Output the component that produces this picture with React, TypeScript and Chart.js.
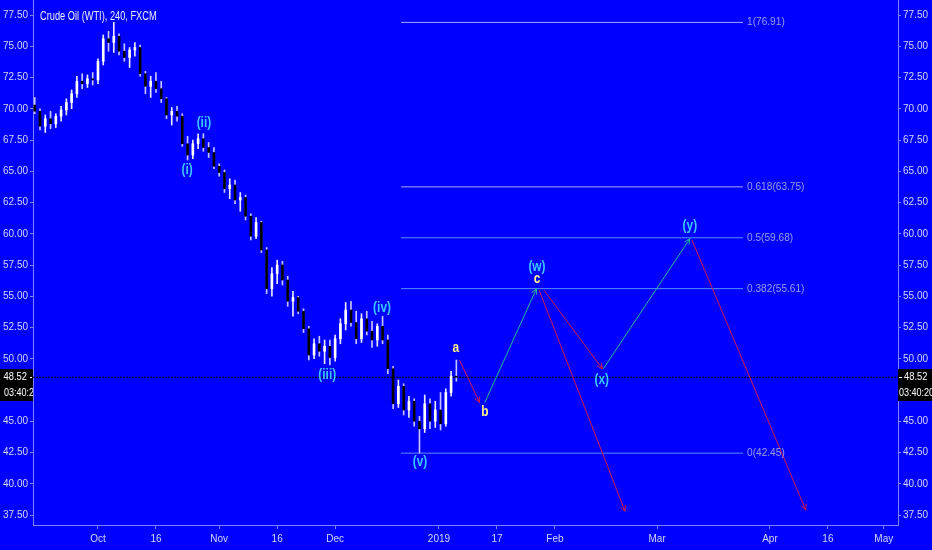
import React, { useEffect, useRef } from "react";
import { Chart, registerables } from "chart.js";

Chart.register(...registerables);

// ---- data ----
const chartTitle = "Crude Oil (WTI), 240, FXCM";
const firstDay = -12; // trading-day index of first bar (0 = 1 Oct 2018)
const opens = [70.3, 69.8, 68.6, 69.2, 68.8, 69.4, 69.9, 70.5, 71.2, 72.2, 72.0, 72.4, 72.3, 73.8, 75.6, 75.3, 75.8, 74.6, 74.1, 74.7, 74.9, 72.8, 71.8, 72.2, 71.6, 70.8, 69.5, 69.8, 69.4, 67.2, 66.3, 67.2, 67.6, 66.9, 66.5, 65.4, 64.9, 63.6, 63.9, 62.7, 62.9, 61.4, 59.8, 60.9, 58.7, 55.6, 56.8, 57.5, 56.3, 54.6, 54.9, 53.8, 52.4, 50.3, 51.2, 50.6, 51.0, 50.1, 51.6, 52.8, 53.9, 52.9, 51.6, 53.2, 52.2, 51.5, 52.6, 51.5, 49.2, 46.4, 47.8, 45.9, 46.6, 45.0, 44.4, 46.4, 45.0, 45.9, 44.8, 47.3, 48.6];
const highs = [70.9, 70.0, 69.5, 69.8, 69.6, 70.2, 70.8, 71.5, 72.6, 72.8, 72.7, 72.9, 74.0, 75.9, 76.2, 76.91, 76.0, 75.2, 74.9, 75.3, 75.1, 73.0, 72.6, 72.9, 72.2, 70.9, 70.1, 70.2, 69.6, 67.8, 67.5, 68.0, 68.0, 67.3, 66.9, 65.6, 65.1, 64.4, 64.3, 63.3, 63.1, 61.6, 61.3, 61.0, 58.9, 57.3, 57.9, 57.8, 56.6, 55.4, 55.0, 54.0, 52.6, 51.6, 51.8, 51.5, 51.5, 51.9, 53.2, 54.5, 54.6, 53.8, 53.6, 53.8, 53.0, 52.8, 53.4, 51.9, 49.4, 48.3, 48.0, 47.0, 46.8, 45.4, 47.1, 46.8, 46.6, 47.3, 47.6, 49.0, 49.9];
const lows = [69.6, 68.3, 68.1, 68.4, 68.5, 69.0, 69.5, 70.0, 70.9, 71.6, 71.7, 71.9, 72.0, 73.5, 74.6, 74.5, 74.3, 73.8, 73.3, 74.2, 72.6, 71.2, 70.9, 71.3, 70.5, 69.2, 68.7, 69.0, 67.0, 65.9, 66.0, 66.8, 66.6, 66.1, 65.2, 64.6, 63.3, 62.8, 62.4, 61.8, 61.1, 59.5, 59.6, 58.5, 55.2, 55.0, 56.0, 55.9, 54.2, 53.4, 53.6, 52.1, 49.9, 50.0, 50.2, 49.6, 49.5, 49.8, 51.2, 52.3, 52.6, 51.2, 51.3, 51.9, 50.9, 51.0, 51.2, 48.8, 46.0, 46.1, 45.5, 45.3, 44.6, 42.45, 44.1, 44.4, 44.5, 44.3, 44.6, 47.0, 48.2];
const closes = [69.8, 68.6, 69.2, 68.8, 69.4, 69.9, 70.5, 71.2, 72.2, 72.0, 72.4, 72.3, 73.8, 75.6, 75.3, 75.8, 74.6, 74.1, 74.7, 74.9, 72.8, 71.8, 72.2, 71.6, 70.8, 69.5, 69.8, 69.4, 67.2, 66.3, 67.2, 67.6, 66.9, 66.5, 65.4, 64.9, 63.6, 63.9, 62.7, 62.9, 61.4, 59.8, 60.9, 58.7, 55.6, 56.8, 57.5, 56.3, 54.6, 54.9, 53.8, 52.4, 50.3, 51.2, 50.6, 51.0, 50.1, 51.6, 52.8, 53.9, 52.9, 51.6, 53.2, 52.2, 51.5, 52.6, 51.5, 49.2, 46.4, 47.8, 45.9, 46.6, 45.0, 44.4, 46.4, 45.0, 45.9, 44.8, 47.3, 48.6, 48.52];

const xTickDays = [0, 11, 23, 34, 45, 64.7, 75.7, 86.7, 106.1, 127.5, 138.5, 149.1];
const xTickLabels = ["Oct", "16", "Nov", "16", "Dec", "2019", "17", "Feb", "Mar", "Apr", "16", "May"];
const yTicks = [37.5, 40, 42.5, 45, 47.5, 50, 52.5, 55, 57.5, 60, 62.5, 65, 67.5, 70, 72.5, 75, 77.5];
const xMin = -12.33;
const xMax = 151.8;
const yMin = 36.7;
const yMax = 78.7;

const currentPrice = 48.52;
const countdown = "03:40:20";

const fibRatios = ["1", "0.618", "0.5", "0.382", "0"];
const fibPrices = [76.91, 63.75, 59.68, 55.61, 42.45];
const fibStartDay = 57.5;
const fibEndDay = 122.4;

// projected wave arrows: [fromDay, fromPrice, toDay, toPrice]
const arrowFromDays = [68.6, 73.4, 84.6, 95.9, 112.7, 83.7];
const arrowFromPrices = [49.9, 46.5, 55.5, 49.2, 59.5, 55.5];
const arrowToDays = [72.4, 83.2, 95.7, 112.3, 134.3, 100.0];
const arrowToPrices = [46.5, 55.6, 49.2, 59.6, 37.9, 37.8];
const arrowKinds = ["down", "up", "down", "up", "down", "down"];

// wave labels
const waveTexts = ["(i)", "(ii)", "(iii)", "(iv)", "(v)", "a", "b", "c", "(w)", "(x)", "(y)"];
const waveDays = [16.9, 20.1, 43.5, 53.9, 61.1, 67.9, 73.4, 83.3, 83.3, 95.6, 112.3];
const wavePrices = [65.1, 68.86, 48.66, 54.06, 41.74, 50.86, 45.74, 56.38, 57.34, 48.3, 60.62];
const waveKinds = ["major", "major", "major", "major", "major", "minor", "minor", "minor", "major", "major", "major"];

// ---- styles ----
const BG = "#0000fe";
const AXIS = "#8080ff";
const TICK_TEXT = "#d4d4ff";
const FONT = "'Liberation Sans', Arial, sans-serif";
const RED = "#d01a4a";
const GREEN = "#22b890";
const CYAN = "#3cc8ff";
const YELLOW = "#fff08c";
const FIB_COLORS = ["#a8a8f0", "#a8a8f0", "#4f92ff", "#4f92ff", "#5a8cff"];
const FIB_TEXT = "#9a9aec";

function narrowText(c: CanvasRenderingContext2D, text: string, x: number, y: number, sx: number, align: CanvasTextAlign) {
  c.save();
  c.translate(x, y);
  c.scale(sx, 1);
  c.textAlign = align;
  c.fillText(text, 0, 0);
  c.restore();
}

export default function App() {
  const ref = useRef<HTMLCanvasElement | null>(null);

  useEffect(() => {
    if (!ref.current) return;
    const days = opens.map((_, i) => firstDay + i);
    const up = closes.map((c, i) => c >= opens[i]);

    const wickData = days.map((d, i) => ({ x: d, y: [lows[i], highs[i]] }));
    const bodyData = days.map((d, i) => ({ x: d, y: [opens[i], closes[i]] }));
    const bodyColors = up.map((u) => (u ? "#ffffff" : "#000000"));
    const wickColors = up.map((u) => (u ? "#e8e8ff" : "#c4c4ff"));

    const fibSets = fibPrices.map((p, i) => ({
      type: "line" as const,
      data: [
        { x: fibStartDay, y: p },
        { x: fibEndDay, y: p },
      ],
      borderColor: FIB_COLORS[i],
      borderWidth: 1,
      pointRadius: 0,
      order: 5,
    }));

    const arrowSets = arrowFromDays.map((fd, i) => ({
      type: "line" as const,
      data: [
        { x: fd, y: arrowFromPrices[i] },
        { x: arrowToDays[i], y: arrowToPrices[i] },
      ],
      borderColor: arrowKinds[i] === "up" ? GREEN : RED,
      borderWidth: 1,
      pointRadius: 0,
      order: 0,
    }));

    const priceLine = {
      type: "line" as const,
      data: [
        { x: xMin, y: currentPrice },
        { x: xMax, y: currentPrice },
      ],
      borderColor: "#000000",
      borderWidth: 1,
      borderDash: [2, 1],
      pointRadius: 0,
      order: 4,
    };

    const overlay = {
      id: "overlay",
      beforeDraw(chart: any) {
        const c = chart.ctx;
        c.save();
        c.fillStyle = BG;
        c.fillRect(0, 0, chart.width, chart.height);
        c.restore();
      },
      afterDatasetsDraw(chart: any) {
        const c = chart.ctx;
        const xs = chart.scales.x;
        const ys = chart.scales.y;
        // arrow heads
        arrowFromDays.forEach((fd, i) => {
          const x0 = xs.getPixelForValue(fd);
          const y0 = ys.getPixelForValue(arrowFromPrices[i]);
          const x1 = xs.getPixelForValue(arrowToDays[i]);
          const y1 = ys.getPixelForValue(arrowToPrices[i]);
          const ang = Math.atan2(y1 - y0, x1 - x0);
          const L = 6;
          c.save();
          c.strokeStyle = arrowKinds[i] === "up" ? GREEN : RED;
          c.lineWidth = 1;
          c.beginPath();
          c.moveTo(x1 - L * Math.cos(ang - 0.45), y1 - L * Math.sin(ang - 0.45));
          c.lineTo(x1, y1);
          c.lineTo(x1 - L * Math.cos(ang + 0.45), y1 - L * Math.sin(ang + 0.45));
          c.stroke();
          c.restore();
        });
        // fib labels
        c.save();
        c.font = `11px ${FONT}`;
        c.fillStyle = FIB_TEXT;
        c.textBaseline = "middle";
        fibPrices.forEach((p, i) => {
          const x = xs.getPixelForValue(fibEndDay) + 4;
          const y = ys.getPixelForValue(p);
          narrowText(c, `${fibRatios[i]}(${p.toFixed(2)})`, x, y, 0.92, "left");
        });
        c.restore();
        // wave labels
        c.save();
        c.textBaseline = "middle";
        waveTexts.forEach((t, i) => {
          const x = xs.getPixelForValue(waveDays[i]);
          const y = ys.getPixelForValue(wavePrices[i]);
          c.font = `bold 14px ${FONT}`;
          c.fillStyle = waveKinds[i] === "major" ? CYAN : YELLOW;
          narrowText(c, t, x, y, 0.85, "center");
        });
        c.restore();
        // title
        c.save();
        c.font = `12.5px ${FONT}`;
        c.fillStyle = "#ececff";
        c.textBaseline = "middle";
        narrowText(c, chartTitle, 40, 17, 0.74, "left");
        c.restore();
      },
      afterDraw(chart: any) {
        const c = chart.ctx;
        const ys = chart.scales.y;
        const area = chart.chartArea;
        const py = Math.round(ys.getPixelForValue(currentPrice));
        const bh = 16;
        c.save();
        c.font = `11px ${FONT}`;
        c.textBaseline = "middle";
        // right boxes
        c.fillStyle = "#000000";
        c.fillRect(area.right, py - 8, chart.width - area.right, bh);
        c.fillRect(area.right, py + 8, chart.width - area.right, bh);
        c.fillStyle = "#ffffff";
        c.fillRect(area.right + 1, py, 3, 1);
        narrowText(c, currentPrice.toFixed(2), area.right + 6, py, 0.85, "left");
        narrowText(c, countdown, area.right + 1, py + 16, 0.82, "left");
        // left boxes
        c.fillStyle = "#000000";
        c.fillRect(0, py - 8, area.left, bh);
        c.fillRect(0, py + 8, area.left, bh);
        c.fillStyle = "#ffffff";
        narrowText(c, currentPrice.toFixed(2), area.left - 6, py, 0.85, "right");
        c.fillRect(area.left - 3, py, 2, 1);
        c.beginPath();
        c.rect(0, py + 8, area.left, bh);
        c.clip();
        narrowText(c, countdown, 4, py + 16, 0.82, "left");
        c.restore();
      },
    };

    const yAxisBase = (position: "left" | "right", width: number) => ({
      type: "linear" as const,
      position,
      min: yMin,
      max: yMax,
      afterBuildTicks: (s: any) => {
        s.ticks = yTicks.map((v) => ({ value: v }));
      },
      afterFit: (s: any) => {
        s.width = width;
        s.paddingTop = 0;
        s.paddingBottom = 0;
      },
      grid: {
        drawOnChartArea: false,
        drawTicks: true,
        tickLength: 3,
        offset: false,
        color: AXIS,
      },
      border: { display: true, color: AXIS },
      ticks: {
        color: TICK_TEXT,
        font: { family: FONT, size: 10 },
        padding: 2,
        autoSkip: false,
        callback: (v: any) => Number(v).toFixed(2),
      },
    });

    const chart = new Chart(ref.current, {
      type: "bar",
      data: {
        datasets: [
          ...arrowSets,
          priceLine,
          ...fibSets,
          {
            type: "bar" as const,
            data: bodyData as any,
            backgroundColor: bodyColors,
            barThickness: 2,
            grouped: false,
            order: 2,
          },
          {
            type: "bar" as const,
            data: wickData as any,
            backgroundColor: wickColors,
            barThickness: 1,
            grouped: false,
            order: 3,
          },
        ] as any,
      },
      options: {
        animation: false,
        responsive: false,
        devicePixelRatio: 1,
        layout: { padding: 0 },
        plugins: { legend: { display: false }, tooltip: { enabled: false }, title: { display: false } },
        scales: {
          x: {
            type: "linear",
            min: xMin,
            max: xMax,
            offset: false,
            afterBuildTicks: (s: any) => {
              s.ticks = xTickDays.map((v) => ({ value: v }));
            },
            afterFit: (s: any) => {
              s.height = 25;
              s.paddingLeft = 0;
              s.paddingRight = 0;
            },
            grid: { drawOnChartArea: false, drawTicks: true, tickLength: 4, offset: false, color: AXIS },
            border: { display: true, color: AXIS },
            ticks: {
              color: TICK_TEXT,
              font: { family: FONT, size: 10 },
              padding: 4,
              autoSkip: false,
              maxRotation: 0,
              callback: (_v: any, i: number) => xTickLabels[i],
            },
          },
          y: yAxisBase("left", 33),
          y2: yAxisBase("right", 34),
        } as any,
      },
      plugins: [overlay],
    });
    return () => chart.destroy();
  }, []);

  return (
    <div style={{ position: "absolute", left: 0, top: 0, width: 932, height: 550, background: BG }}>
      <canvas ref={ref} width={932} height={550} style={{ display: "block", width: 932, height: 550 }} />
    </div>
  );
}
